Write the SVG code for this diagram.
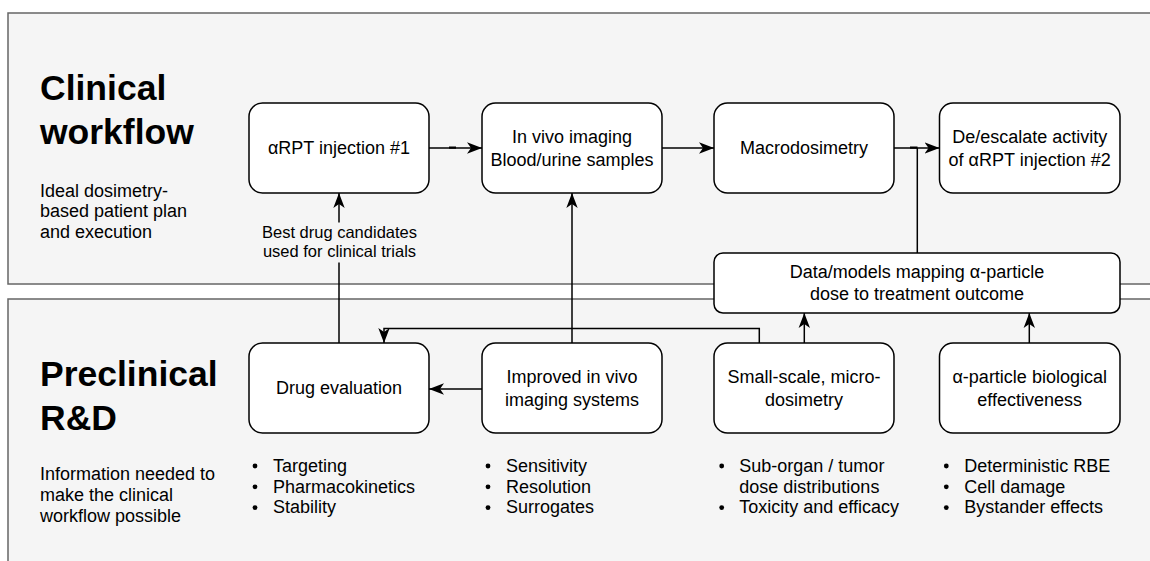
<svg xmlns="http://www.w3.org/2000/svg" width="1150" height="561" viewBox="0 0 1150 561">
<defs>
<style>
.panel{fill:#f5f5f5;stroke:#666666;stroke-width:1.5}
.box{fill:#ffffff;stroke:#000000;stroke-width:1.5}
.edge{fill:none;stroke:#000000;stroke-width:1.5}
text{font-family:"Liberation Sans",Arial,Helvetica,sans-serif;fill:#000000}
.t{font-size:18px;text-anchor:middle}
.title{font-size:35.5px;font-weight:bold}
.sub{font-size:18px}
.lbl{font-size:16.5px;text-anchor:middle}
.li{font-size:18px}
.dot{fill:#000000}
</style>
<marker id="arr" markerUnits="userSpaceOnUse" markerWidth="16" markerHeight="12" refX="15" refY="6" orient="auto">
<path d="M0,0.3 L15,6 L0,11.7 L4,6 Z" fill="#000000"/>
</marker>
</defs>

<g id="panel-clinical">
<rect class="panel" x="8" y="13" width="1160" height="271"/>
<text class="title" x="40" y="100">Clinical</text>
<text class="title" x="40" y="143.5">workflow</text>
<text class="sub" x="40" y="196.5">Ideal dosimetry-</text>
<text class="sub" x="40" y="217">based patient plan</text>
<text class="sub" x="40" y="237.5">and execution</text>
</g>

<g id="panel-preclinical">
<rect class="panel" x="8" y="299" width="1160" height="280"/>
<text class="title" x="40" y="386">Preclinical</text>
<text class="title" x="40" y="430">R&amp;D</text>
<text class="sub" x="40" y="480">Information needed to</text>
<text class="sub" x="40" y="501">make the clinical</text>
<text class="sub" x="40" y="522">workflow possible</text>
</g>

<g id="connectors">
<line class="edge" x1="429" y1="148" x2="482" y2="148" marker-end="url(#arr)"/>
<line x1="449" y1="147.6" x2="456" y2="147.6" stroke="#000" stroke-width="2.2"/>
<line class="edge" x1="662" y1="148" x2="714" y2="148" marker-end="url(#arr)"/>
<line class="edge" x1="894" y1="148" x2="939.5" y2="148" marker-end="url(#arr)"/>
<polyline class="edge" points="917.3,253 917.3,148"/>
<line x1="910" y1="147.6" x2="917.5" y2="147.6" stroke="#000" stroke-width="2.2"/>
<line class="edge" x1="339" y1="343" x2="339" y2="193" marker-end="url(#arr)"/>
<rect x="262" y="222.5" width="155" height="40" fill="#f5f5f5"/>
<text class="lbl" x="339.5" y="238.3">Best drug candidates</text>
<text class="lbl" x="339.5" y="256.8">used for clinical trials</text>
<line class="edge" x1="572" y1="343" x2="572" y2="193" marker-end="url(#arr)"/>
<line class="edge" x1="482" y1="389" x2="429" y2="389" marker-end="url(#arr)"/>
<polyline class="edge" points="759.3,343 759.3,328.5 384,328.5 384,343" marker-end="url(#arr)"/>
<line class="edge" x1="804.3" y1="343" x2="804.3" y2="313" marker-end="url(#arr)"/>
<line class="edge" x1="1029.3" y1="343" x2="1029.3" y2="313" marker-end="url(#arr)"/>
</g>

<g id="node-injection1">
<rect class="box" x="249" y="103" width="180" height="90" rx="13.5"/>
<text class="t" x="339" y="154">αRPT injection #1</text>
</g>
<g id="node-invivo">
<rect class="box" x="482" y="103" width="180" height="90" rx="13.5"/>
<text class="t" x="572" y="143.3">In vivo imaging</text>
<text class="t" x="572" y="166">Blood/urine samples</text>
</g>
<g id="node-macro">
<rect class="box" x="714" y="103" width="180" height="90" rx="13.5"/>
<text class="t" x="804" y="154">Macrodosimetry</text>
</g>
<g id="node-deescalate">
<rect class="box" x="939.5" y="103" width="180.5" height="90" rx="13.5"/>
<text class="t" x="1029.7" y="143.3">De/escalate activity</text>
<text class="t" x="1029.7" y="166">of αRPT injection #2</text>
</g>
<g id="node-datamodels">
<rect class="box" x="714" y="253" width="406" height="60" rx="9"/>
<text class="t" x="917" y="278.3">Data/models mapping α-particle</text>
<text class="t" x="917" y="300">dose to treatment outcome</text>
</g>
<g id="node-drugeval">
<rect class="box" x="249" y="343" width="180" height="90" rx="13.5"/>
<text class="t" x="339" y="394">Drug evaluation</text>
</g>
<g id="node-improved">
<rect class="box" x="482" y="343" width="180" height="90" rx="13.5"/>
<text class="t" x="572" y="383.3">Improved in vivo</text>
<text class="t" x="572" y="405.5">imaging systems</text>
</g>
<g id="node-smallscale">
<rect class="box" x="714" y="343" width="180" height="90" rx="13.5"/>
<text class="t" x="804" y="383.3">Small-scale, micro-</text>
<text class="t" x="804" y="405.5">dosimetry</text>
</g>
<g id="node-rbe">
<rect class="box" x="939.5" y="343" width="180.5" height="90" rx="13.5"/>
<text class="t" x="1029.7" y="383.3">α-particle biological</text>
<text class="t" x="1029.7" y="405.5">effectiveness</text>
</g>

<g id="list-drugeval">
<circle class="dot" cx="255" cy="466" r="2.4"/>
<circle class="dot" cx="255" cy="486.8" r="2.4"/>
<circle class="dot" cx="255" cy="507.6" r="2.4"/>
<text class="li" x="273" y="471.7">Targeting</text>
<text class="li" x="273" y="492.5">Pharmacokinetics</text>
<text class="li" x="273" y="513.3">Stability</text>
</g>
<g id="list-improved">
<circle class="dot" cx="488" cy="466" r="2.4"/>
<circle class="dot" cx="488" cy="486.8" r="2.4"/>
<circle class="dot" cx="488" cy="507.6" r="2.4"/>
<text class="li" x="506" y="471.7">Sensitivity</text>
<text class="li" x="506" y="492.5">Resolution</text>
<text class="li" x="506" y="513.3">Surrogates</text>
</g>
<g id="list-smallscale">
<circle class="dot" cx="721.7" cy="466" r="2.4"/>
<circle class="dot" cx="721.7" cy="507.6" r="2.4"/>
<text class="li" x="739.3" y="471.7">Sub-organ / tumor</text>
<text class="li" x="739.3" y="492.5">dose distributions</text>
<text class="li" x="739.3" y="513.3">Toxicity and efficacy</text>
</g>
<g id="list-rbe">
<circle class="dot" cx="946.3" cy="466" r="2.4"/>
<circle class="dot" cx="946.3" cy="486.8" r="2.4"/>
<circle class="dot" cx="946.3" cy="507.6" r="2.4"/>
<text class="li" x="964.3" y="471.7">Deterministic RBE</text>
<text class="li" x="964.3" y="492.5">Cell damage</text>
<text class="li" x="964.3" y="513.3">Bystander effects</text>
</g>
</svg>
